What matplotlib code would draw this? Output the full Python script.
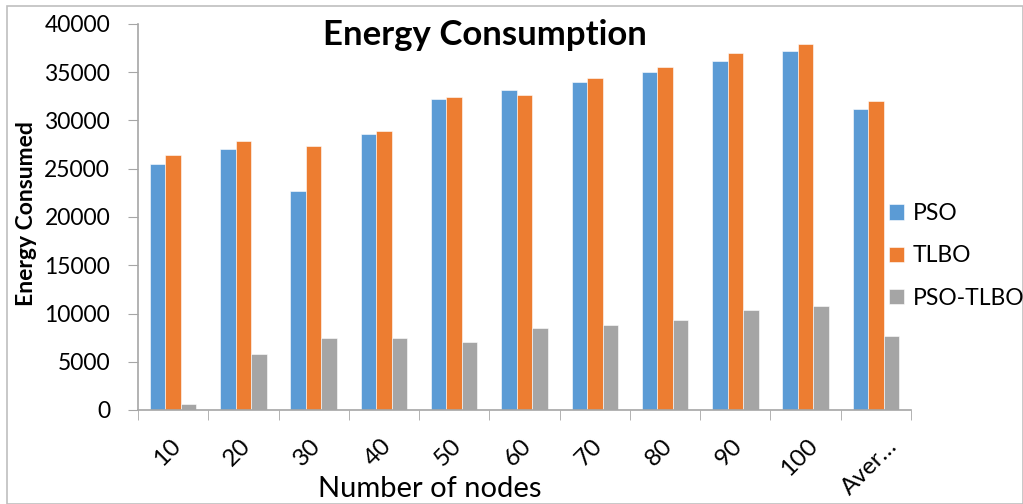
import matplotlib
matplotlib.use("Agg")
import matplotlib.pyplot as plt
import matplotlib.transforms as mtransforms
import numpy as np
from matplotlib.patches import Rectangle

plt.rcParams['font.family'] = ['Lato', 'DejaVu Sans']

categories = ["10", "20", "30", "40", "50", "60", "70", "80", "90", "100", "Aver…"]
pso = [25500, 27000, 22650, 28550, 32250, 33150, 34000, 35000, 36200, 37200, 31150]
tlbo = [26400, 27850, 27350, 28950, 32450, 32600, 34450, 35580, 37000, 37900, 32000]
pso_tlbo = [650, 5850, 7450, 7450, 7000, 8450, 8800, 9350, 10350, 10800, 7650]
series_names = ["PSO", "TLBO", "PSO-TLBO"]
colors = ["#5B9BD5", "#ED7D31", "#A5A5A5"]

fig = plt.figure(figsize=(10.23, 5.04), dpi=100)
ax = fig.add_axes([138/1023, 94/504, 773/1023, 386/504])

x = np.arange(len(categories))
w = 0.22
handles = []
for i, (vals, name, c) in enumerate(zip([pso, tlbo, pso_tlbo], series_names, colors)):
    h = ax.bar(x + (i - 1) * w, vals, w, color=c, label=name, edgecolor='white', linewidth=0.4)
    handles.append(h)

ax.set_xlim(-0.5, len(categories) - 0.5)
ax.set_ylim(0, 40000)
ax.set_yticks(np.arange(0, 40001, 5000))
ax.tick_params(axis='y', labelsize=16.5, length=7, color='#A6A6A6', pad=13)
ax.set_xticks(x)
ax.set_xticklabels(categories, rotation=45, ha='center', va='top', fontsize=17.5)
ax.tick_params(axis='x', length=0, pad=18)
offset = mtransforms.ScaledTranslation(-6/100, 0, fig.dpi_scale_trans)
for lbl in ax.get_xticklabels():
    lbl.set_transform(lbl.get_transform() + offset)
ax.set_xticks(np.arange(-0.5, len(categories), 1), minor=True)
ax.tick_params(axis='x', which='minor', length=7, color='#A6A6A6')

for s in ['top', 'right']:
    ax.spines[s].set_visible(False)
for s in ['left', 'bottom']:
    ax.spines[s].set_color('#A6A6A6')
    ax.spines[s].set_linewidth(1.2)

fig.text(485/1023, 1 - 35/504, "Energy Consumption", fontsize=25, fontweight='bold',
         ha='center', va='center')
fig.text(27/1023, 1 - 214/504, "Energy Consumed", fontsize=16.5, fontweight='bold',
         rotation=90, ha='center', va='center')
fig.text(430/1023, 1 - 489/504, "Number of nodes", fontsize=21, ha='center', va='center')

leg = fig.legend(handles=handles, labels=series_names, loc='upper left',
                 bbox_to_anchor=(889/1023, 1 - 203/504), frameon=False, fontsize=16.5,
                 handlelength=0.64, handleheight=0.64, handletextpad=0.4,
                 labelspacing=0.93, borderpad=0, borderaxespad=0)

fig.patches.append(Rectangle((7/1023, 0), 1 - 7/1023, 1 - 6/504, transform=fig.transFigure,
                             fill=False, edgecolor='#BFBFBF', linewidth=1.2))

fig.savefig("out.png", dpi=100)
